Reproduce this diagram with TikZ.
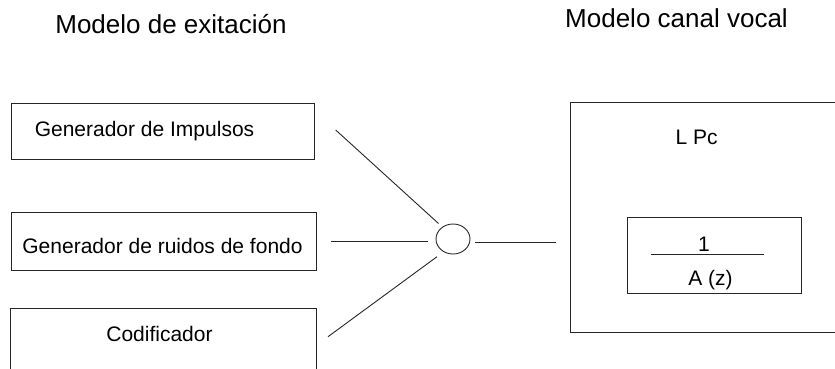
\documentclass[tikz,border=0pt]{standalone}
\usepackage{fontspec}
\setmainfont{Liberation Sans}
\usetikzlibrary{shapes.geometric}
\begin{document}
\begin{tikzpicture}[x=1pt,y=-1pt,
  box/.style={draw=black!85,line width=1pt,rectangle,inner sep=0pt},
  lbl/.style={inner sep=0pt,anchor=base,font=\fontsize{21}{24}\selectfont},
  ttl/.style={inner sep=0pt,anchor=base,font=\fontsize{26}{30}\selectfont},
  wire/.style={draw=black!85,line width=0.9pt}]
\useasboundingbox (0,0) rectangle (835,369);
\clip (0,0) rectangle (835,369);
% titles
\node[ttl] (t1) at (171,34) {Modelo de exitación};
\node[ttl] (t2) at (676.5,28) {Modelo canal vocal};
% excitation boxes
\node[box,minimum width=303pt,minimum height=56pt] (b1) at (162.5,131) {};
\node[box,minimum width=305pt,minimum height=58pt] (b2) at (163.5,241) {};
\node[box,minimum width=306pt,minimum height=80pt] (b3) at (163,348) {};
\node[lbl] (l1) at (144.5,136) {Generador de Impulsos};
\node[lbl] (l2) at (162.5,253.3) {Generador de ruidos de fondo};
\node[lbl] (l3) at (159.5,341.7) {Codificador};
% summing circle
\node[draw=black!85,line width=0.9pt,ellipse,minimum width=34pt,minimum height=30pt,inner sep=0pt] (c) at (453,239) {};
% vocal tract model
\node[box,minimum width=300pt,minimum height=229.6pt] (vb) at (720,217.5) {};
\node[lbl] (lpc) at (696.7,144) {L Pc};
\node[box,minimum width=174.4pt,minimum height=75.6pt] (ib) at (714.5,255.5) {};
\node[lbl] (num) at (704,251.7) {1};
\node[lbl] (den) at (710.5,285) {A (z)};
\coordinate (f1) at (650.7,254.7);
\coordinate (f2) at (764,254.7);
\draw[wire] (f1) -- (f2);
% connectors
\coordinate (s1) at (335.7,130);
\coordinate (e1) at (438.5,223.5);
\coordinate (s2) at (331,241);
\coordinate (e2) at (427.5,241);
\coordinate (s3) at (328,336.7);
\coordinate (e3) at (437,256.7);
\coordinate (s4) at (475,242.3);
\coordinate (e4) at (555.5,242.3);
\draw[wire] (s1) -- (e1);
\draw[wire] (s2) -- (e2);
\draw[wire] (s3) -- (e3);
\draw[wire] (s4) -- (e4);
\end{tikzpicture}
\end{document}
